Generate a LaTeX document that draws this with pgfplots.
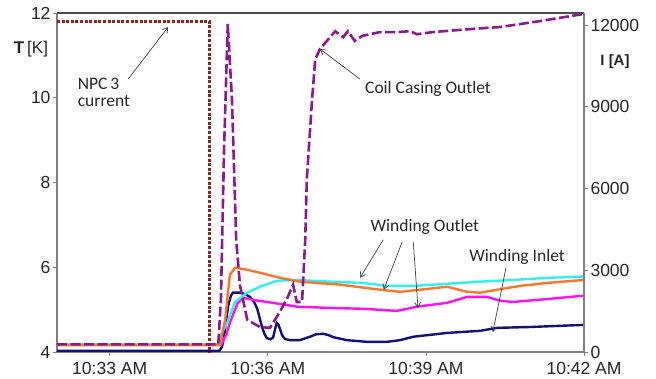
\documentclass[border=0pt]{standalone}
\usepackage{fontspec}
\setmainfont{Liberation Sans}
\newfontfamily\calibri{Carlito}
\usepackage{pgfplots}
\pgfplotsset{compat=1.18}
\usetikzlibrary{arrows.meta}
\definecolor{cOrange}{HTML}{F7782A}
\definecolor{cCyan}{HTML}{30F0F0}
\definecolor{cMagenta}{HTML}{FF10F0}
\definecolor{cNavy}{HTML}{101080}
\definecolor{cPurple}{HTML}{8A1A8E}
\definecolor{cRed}{HTML}{9A2020}
\definecolor{axgray}{HTML}{808080}
\definecolor{txt}{HTML}{262626}
\begin{document}
\begin{tikzpicture}[x=1pt,y=1pt]
\path[use as bounding box] (0,0) rectangle (656,378);
\pgfplotsset{
  common/.style={
    at={(57pt,26pt)}, anchor=south west, scale only axis,
    width=527pt, height=339pt, xmin=32, xmax=42,
    tick align=outside, major tick length=4pt,
    tick style={axgray, line width=0.8pt},
    axis line style={-, axgray, line width=1.2pt},
    tick label style={font=\fontsize{17.5}{19}\selectfont, text=txt},
    /pgf/number format/assume math mode=true,
    clip=true,
  }
}
\begin{axis}[common,
  axis y line*=left, axis x line*=bottom,
  ymin=4, ymax=12, ytick={4,6,8,10,12},
  xtick={33,36,39,42},
  xticklabels={10:33 AM,10:36 AM,10:39 AM,10:42 AM},
  xticklabel style={yshift=-2.5pt},
  yticklabel style={xshift=1pt},
]
% Winding Inlet (navy)
\addplot[cNavy, line width=2.4pt] coordinates {
(32,4.03) (35.08,4.03) (35.13,4.12) (35.17,4.35) (35.21,4.75) (35.25,5.10) (35.30,5.33)
(35.34,5.40) (35.47,5.40) (35.58,5.36)
(35.66,5.30) (35.74,5.18) (35.80,5.02) (35.85,4.78) (35.89,4.59) (35.94,4.42) (35.98,4.33) (36.05,4.30)
(36.10,4.34) (36.14,4.55) (36.17,4.69)
(36.20,4.65) (36.23,4.55) (36.27,4.40) (36.32,4.31) (36.42,4.28) (36.61,4.28) (36.80,4.36) (36.92,4.42) (37.05,4.43)
(37.15,4.40) (37.24,4.35) (37.50,4.28) (37.88,4.24) (38.26,4.24) (38.51,4.28) (38.76,4.36)
(39.40,4.45) (40.03,4.50) (40.35,4.57) (40.98,4.59) (42.0,4.64)};
% Winding Outlet (magenta)
\addplot[cMagenta, line width=2.4pt] coordinates {
(32,4.17) (35.11,4.17) (35.21,4.40) (35.28,4.69) (35.43,5.16) (35.53,5.28)
(35.72,5.23) (36.10,5.16) (36.55,5.07) (37.18,5.04) (37.81,5.02) (38.45,4.97)
(38.83,5.07) (39.40,5.16) (39.78,5.30) (40.16,5.30) (40.41,5.21) (40.65,5.18)
(41.30,5.25) (42.0,5.33)};
% Winding Outlet (cyan)
\addplot[cCyan, line width=2.4pt] coordinates {
(32,4.19) (35.06,4.19) (35.09,4.36) (35.23,4.69) (35.38,5.18) (35.61,5.40)
(35.85,5.54) (36.17,5.68) (36.55,5.70) (37.18,5.66) (37.81,5.63) (38.26,5.56)
(38.76,5.56) (39.40,5.61) (40.03,5.66) (40.65,5.70) (41.30,5.75) (42.0,5.78)};
% Winding Outlet (orange)
\addplot[cOrange, line width=2.4pt] coordinates {
(32,4.16) (35.09,4.16) (35.19,4.76) (35.28,5.82) (35.38,5.99) (35.61,5.94)
(35.85,5.87) (36.23,5.75) (36.61,5.66) (37.37,5.59) (38.13,5.47) (38.51,5.42)
(38.89,5.47) (39.40,5.54) (39.78,5.42) (40.03,5.40) (40.35,5.47) (40.79,5.56)
(41.30,5.63) (42.0,5.70)};
% Coil Casing Outlet (purple dashed)
\addplot[cPurple, line width=2.6pt, dash pattern=on 10pt off 3.5pt] coordinates {
(32,4.18) (35.06,4.18) (35.11,5.23) (35.17,8.78) (35.24,11.74) (35.32,9.96)
(35.40,6.65) (35.47,5.59) (35.61,4.76) (35.85,4.59) (36.04,4.57) (36.23,4.95)
(36.38,5.30) (36.48,5.59) (36.55,5.18) (36.65,5.18) (36.71,6.65) (36.74,8.07)
(36.84,9.96) (36.90,10.91) (36.99,11.15) (37.12,11.34) (37.28,11.57) (37.43,11.43)
(37.52,11.57) (37.65,11.34) (37.79,11.46) (38.13,11.55) (38.45,11.55) (38.70,11.57)
(38.83,11.50) (39.13,11.55) (39.84,11.62) (40.41,11.67) (41.17,11.81) (42.0,11.98)};
% annotations
\begin{scope}[txt, font=\calibri\fontsize{17.5}{19}\selectfont]
\node[align=left] at (axis cs:32.89,10.13) {NPC\,3\\[-2pt]current};
\node at (axis cs:39.04,10.22) {Coil Casing Outlet};
\node at (axis cs:38.98,6.96) {Winding Outlet};
\node at (axis cs:40.73,6.25) {Winding Inlet};
\end{scope}
\begin{scope}[draw=black!75, line width=0.7pt, -{Straight Barb[length=5pt,width=6pt]}]
\draw (axis cs:33.35,10.44) -- (axis cs:34.11,11.67);
\draw (axis cs:37.75,10.44) -- (axis cs:36.99,11.15);
\draw (axis cs:38.19,6.65) -- (axis cs:37.75,5.75);
\draw (axis cs:38.55,6.60) -- (axis cs:38.20,5.47);
\draw (axis cs:38.76,6.60) -- (axis cs:38.85,5.04);
\draw (axis cs:40.52,5.99) -- (axis cs:40.27,4.47);
\end{scope}
\end{axis}
\begin{axis}[common,
  axis y line*=right, axis x line*=top, xtick=\empty,
  x axis line style={draw=black!70, line width=1.4pt},
  ymin=0, ymax=12440, ytick={0,3000,6000,9000,12000},
  scaled y ticks=false,
  yticklabel style={xshift=-1pt, /pgf/number format/.cd, fixed, set thousands separator={}},
]
\addplot[cRed, line width=2.8pt, dash pattern=on 3pt off 1.6pt] coordinates {
(32,12120) (34.90,12120) (34.90,0)};
\end{axis}
\node[txt, font=\fontsize{17}{19}\selectfont] at (31,329) {\textbf{T}\,[K]};
\node[txt, font=\fontsize{15}{17}\selectfont\bfseries] at (615,316) {I [A]};
\end{tikzpicture}
\end{document}
